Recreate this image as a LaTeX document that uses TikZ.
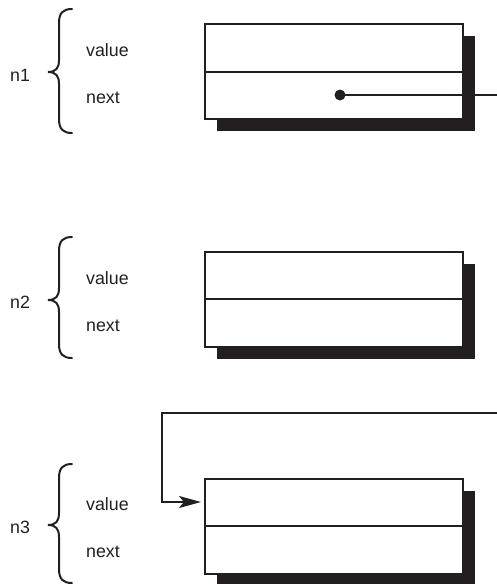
\documentclass[tikz,border=0pt]{standalone}
\usepackage{fontspec}
\setmainfont{Liberation Sans}
\usetikzlibrary{shadows,arrows.meta}
\definecolor{ink}{HTML}{231F20}
\tikzset{
  lbl/.style={anchor=base west, inner sep=0pt, text=ink, font=\fontsize{17.8}{20}\selectfont},
  rec/.style={draw=ink, line width=2pt, fill=white, minimum width=258pt, minimum height=95pt, inner sep=0pt,
    drop shadow={shadow xshift=12pt, shadow yshift=-12pt, opacity=1, fill=ink}},
  link/.style={draw=ink, line width=2pt},
  brc/.style={draw=ink, line width=2pt, line cap=round}
}
\newcommand{\mybrace}[3]{% y-top y-tip y-bottom
  \draw[brc] (72,#1) .. controls (63,#1) and (59,#1+4) .. (59,#1+14) -- (59,#2-12)
    .. controls (59,#2-4) and (56,#2) .. (48,#2)
    .. controls (56,#2) and (59,#2+4) .. (59,#2+12) -- (59,#3-14)
    .. controls (59,#3-4) and (63,#3) .. (72,#3);}
\begin{document}
\begin{tikzpicture}[x=1pt,y=-1pt]
\useasboundingbox (0,0) rectangle (497,584);
% node 1
\mybrace{9}{72}{133}
\node[lbl] (n1) at (10,81) {n1};
\node[lbl] (v1) at (86,56) {value};
\node[lbl] (x1) at (86,103) {next};
\node[rec] (b1) at (334,71.5) {};
\draw[link] (b1.west) -- (b1.east);
\coordinate (d1) at (340,95);
\coordinate (e1) at (497,95);
\fill[ink] (d1) circle (5.5pt);
\draw[link] (d1) -- (e1);
% node 2
\mybrace{237}{300}{358}
\node[lbl] (n2) at (10,308) {n2};
\node[lbl] (v2) at (86,284) {value};
\node[lbl] (x2) at (86,331) {next};
\node[rec] (b2) at (334,299) {};
\draw[link] (b2.west) -- (b2.east);
% node 3
\mybrace{464}{525}{583}
\node[lbl] (n3) at (10,533) {n3};
\node[lbl] (v3) at (86,510) {value};
\node[lbl] (x3) at (86,557) {next};
\node[rec] (b3) at (334,526) {};
\draw[link] (b3.west) -- (b3.east);
\coordinate (e3) at (497,413);
\coordinate (c3) at (162,413);
\draw[link,-{Stealth[length=22pt,width=12pt,inset=5pt]}] (e3) -- (c3) |- ([xshift=-3pt]b3.west |- 0,502);
\end{tikzpicture}
\end{document}
